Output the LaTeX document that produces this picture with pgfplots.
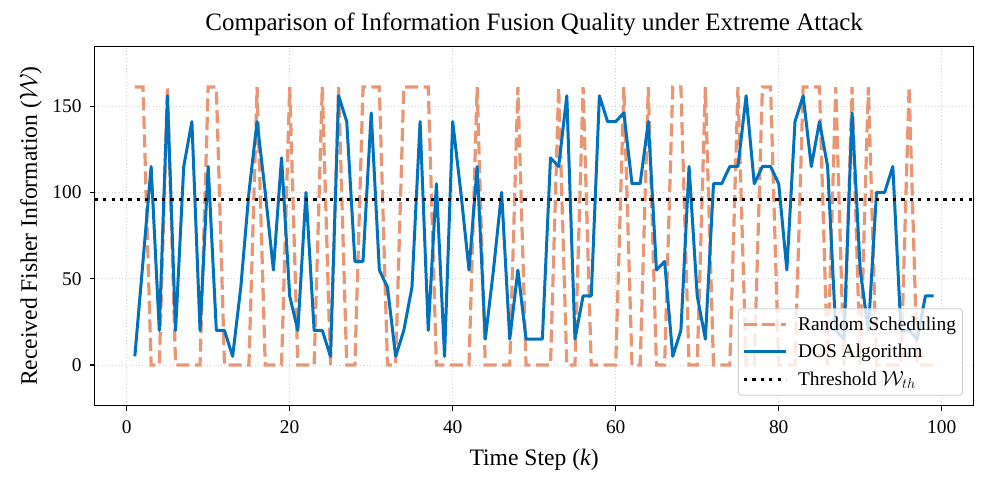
\documentclass[border=0pt]{standalone}
\usepackage{fontspec}
\setmainfont{Liberation Serif}
\usepackage{pgfplots}
\usepackage{pgfplotstable}
\pgfplotsset{compat=1.18}

\definecolor{rndorange}{RGB}{233,150,116}
\definecolor{dosblue}{RGB}{0,114,189}

% k, random scheduling, DOS algorithm
\pgfplotstableread{
k rnd dos
1 161 5
2 161 60
3 0 115
4 0 20
5 161 156
6 0 20
7 0 115
8 0 141
9 0 20
10 161 115
11 161 20
12 0 20
13 0 5
14 0 45
15 0 100
16 161 141
17 0 100
18 0 55
19 0 120
20 161 40
21 0 20
22 0 100
23 0 20
24 161 20
25 0 5
26 161 156
27 0 141
28 0 60
29 161 60
30 161 146
31 161 55
32 0 45
33 0 5
34 161 20
35 161 45
36 161 141
37 161 20
38 0 105
39 0 5
40 0 141
41 0 100
42 0 55
43 161 115
44 0 15
45 0 55
46 0 100
47 0 15
48 161 55
49 0 15
50 0 15
51 0 15
52 0 120
53 161 115
54 0 156
55 0 15
56 161 40
57 0 40
58 0 156
59 0 141
60 0 141
61 161 146
62 0 105
63 0 105
64 161 141
65 0 55
66 0 60
67 161 5
68 161 20
69 0 115
70 0 40
71 161 15
72 0 105
73 0 105
74 0 115
75 161 115
76 0 156
77 0 105
78 161 115
79 161 115
80 0 105
81 0 55
82 0 141
83 161 156
84 161 115
85 161 141
86 0 115
87 161 20
88 0 15
89 161 146
90 0 55
91 161 20
92 0 100
93 0 100
94 0 115
95 0 20
96 161 20
97 0 15
98 0 40
99 0 40
}\fusiondata

\begin{document}
\begin{tikzpicture}
\begin{axis}[
  scale only axis,
  width=878.6pt, height=359pt,
  xmin=-3.9, xmax=103.9,
  ymin=-23.6, ymax=184.4,
  xtick={0,20,...,100},
  ytick={0,50,100,150},
  xtick pos=bottom, ytick pos=left,
  tick align=outside,
  major tick length=4.9pt,
  tick style={black, line width=1.1pt},
  axis line style={black, line width=1.1pt},
  grid=major,
  grid style={black!18, line width=0.8pt, dash pattern=on 1pt off 2.4pt},
  /pgf/number format/assume math mode=true,
  tick label style={font=\fontsize{19.4}{23}\selectfont},
  yticklabel style={inner sep=0pt, xshift=-8.3pt},
  xticklabel style={inner sep=0pt, anchor=base, yshift=-22.7pt},
  title={Comparison of Information Fusion Quality under Extreme Attack},
  title style={at={(axis description cs:0.5,1.0284)}, anchor=base,
    font=\fontsize{25}{30}\selectfont},
  xlabel={Time Step (\textit{k})},
  xlabel style={at={(axis description cs:0.5,-0.1652)}, anchor=base,
    font=\fontsize{23.6}{28}\selectfont},
  ylabel={Received Fisher Information ($\mathcal{W}$)},
  ylabel style={at={(axis description cs:-0.073,0.5)}, anchor=center,
    font=\fontsize{23.6}{28}\selectfont},
  legend style={at={(axis description cs:0.9879,0.0279)}, anchor=south east,
    draw=black!20, line width=0.8pt, rounded corners=3pt,
    fill=white, fill opacity=0.8, text opacity=1,
    font=\fontsize{19.4}{23}\selectfont,
    inner xsep=4pt, inner ysep=5.5pt, row sep=7.5pt, column sep=8pt,
    nodes={inner sep=2.5pt}},
  legend cell align=left,
  legend image code/.code={\draw[#1] (0pt,0pt) -- (42pt,0pt);},
]
\addplot[rndorange, line width=3.2pt, dash pattern=on 13pt off 5.5pt]
  table[x=k, y=rnd] {\fusiondata};
\addplot[dosblue, line width=3pt, line join=round]
  table[x=k, y=dos] {\fusiondata};
\addplot[black, line width=3pt, dash pattern=on 3.2pt off 5.2pt]
  coordinates {(-3.9,96) (103.9,96)};
\legend{Random Scheduling, DOS Algorithm, Threshold $\mathcal{W}_{th}$}
\end{axis}
\pgfresetboundingbox
\path (-94.9pt,-81.3pt) rectangle (895.1pt,405.7pt);
\end{tikzpicture}
\end{document}
